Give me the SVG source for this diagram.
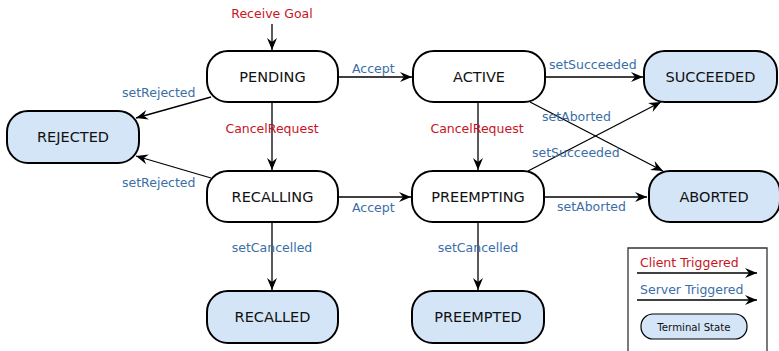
<svg xmlns="http://www.w3.org/2000/svg" width="779" height="351" viewBox="0 0 779 351">
<style>
.st{fill:#fff;stroke:#000;stroke-width:2}
.term{fill:#d4e5f8;stroke:#000;stroke-width:2}
.nt{font-family:"DejaVu Sans",sans-serif;font-size:14.5px;fill:#111;text-anchor:middle}
.e{stroke:#000;stroke-width:1.3;fill:none;marker-end:url(#ah)}
.cl{font-family:"DejaVu Sans",sans-serif;font-size:12.5px;fill:#c8141e}
.sv{font-family:"DejaVu Sans",sans-serif;font-size:12.5px;fill:#3a6ea8}
</style>
<defs>
<marker id="ah" markerUnits="userSpaceOnUse" markerWidth="14" markerHeight="12" viewBox="-12 -6 14 12" refX="0" refY="0" orient="auto">
<path d="M0,0 L-12,-5 L-8,0 L-12,5 Z" fill="#000"/>
</marker>
</defs>
<rect width="779" height="351" fill="#fff"/>
<g id="connectors">
<line class="e" x1="272" y1="24" x2="272" y2="50"/>
<line class="e" x1="338" y1="77" x2="412" y2="77"/>
<line class="e" x1="211" y1="97" x2="136" y2="118"/>
<line class="e" x1="272" y1="102" x2="272" y2="170"/>
<line class="e" x1="211" y1="178" x2="136" y2="156"/>
<line class="e" x1="338" y1="197" x2="411" y2="197"/>
<line class="e" x1="272" y1="222" x2="272" y2="290"/>
<line class="e" x1="545" y1="77" x2="643" y2="77"/>
<line class="e" x1="530" y1="102" x2="663" y2="171"/>
<line class="e" x1="478" y1="102" x2="478" y2="170"/>
<line class="e" x1="528" y1="171" x2="661" y2="102"/>
<line class="e" x1="544" y1="197" x2="647" y2="197"/>
<line class="e" x1="478" y1="222" x2="478" y2="290"/>
<text class="cl" x="272" y="18" text-anchor="middle">Receive Goal</text>
<text class="sv" x="352" y="73">Accept</text>
<text class="sv" x="122" y="97">setRejected</text>
<text class="cl" x="272" y="133" text-anchor="middle">CancelRequest</text>
<text class="sv" x="122" y="187">setRejected</text>
<text class="sv" x="352" y="212">Accept</text>
<text class="sv" x="272" y="252" text-anchor="middle">setCancelled</text>
<text class="sv" x="549" y="69">setSucceeded</text>
<text class="sv" x="542" y="121">setAborted</text>
<text class="cl" x="477" y="133" text-anchor="middle">CancelRequest</text>
<text class="sv" x="532" y="157">setSucceeded</text>
<text class="sv" x="557" y="211">setAborted</text>
<text class="sv" x="478" y="252" text-anchor="middle">setCancelled</text>
</g>
<g id="PENDING"><rect class="st" x="207" y="51" width="131" height="51" rx="21"/><text class="nt" x="272.5" y="82">PENDING</text></g>
<g id="ACTIVE"><rect class="st" x="413" y="51" width="132" height="51" rx="21"/><text class="nt" x="479" y="82">ACTIVE</text></g>
<g id="SUCCEEDED"><rect class="term" x="644" y="51" width="133" height="51" rx="21"/><text class="nt" x="710.5" y="82">SUCCEEDED</text></g>
<g id="REJECTED"><rect class="term" x="7" y="111" width="132" height="52" rx="21"/><text class="nt" x="73" y="142">REJECTED</text></g>
<g id="RECALLING"><rect class="st" x="207" y="171" width="131" height="51" rx="21"/><text class="nt" x="272.5" y="202">RECALLING</text></g>
<g id="PREEMPTING"><rect class="st" x="412" y="171" width="132" height="51" rx="21"/><text class="nt" x="478" y="202">PREEMPTING</text></g>
<g id="ABORTED"><rect class="term" x="649" y="171" width="131" height="51" rx="21"/><text class="nt" x="714" y="202">ABORTED</text></g>
<g id="RECALLED"><rect class="term" x="207" y="291" width="131" height="52" rx="21"/><text class="nt" x="272.5" y="322">RECALLED</text></g>
<g id="PREEMPTED"><rect class="term" x="412" y="291" width="132" height="52" rx="21"/><text class="nt" x="478" y="322">PREEMPTED</text></g>
<g id="legend">
<path d="M628,352 L628,248 L767,248 L767,352" fill="#fff" stroke="#333" stroke-width="1.3"/>
<text class="cl" x="640" y="267">Client Triggered</text>
<line class="e" x1="637" y1="273" x2="757" y2="273"/>
<text class="sv" x="640" y="294">Server Triggered</text>
<line class="e" x1="637" y1="300" x2="757" y2="300"/>
<rect x="641" y="314" width="106" height="25" rx="12" fill="#d4e5f8" stroke="#000" stroke-width="1.2"/>
<text x="694" y="330.5" font-family="DejaVu Sans, sans-serif" font-size="10.2px" fill="#111" text-anchor="middle">Terminal State</text>
</g>
</svg>
